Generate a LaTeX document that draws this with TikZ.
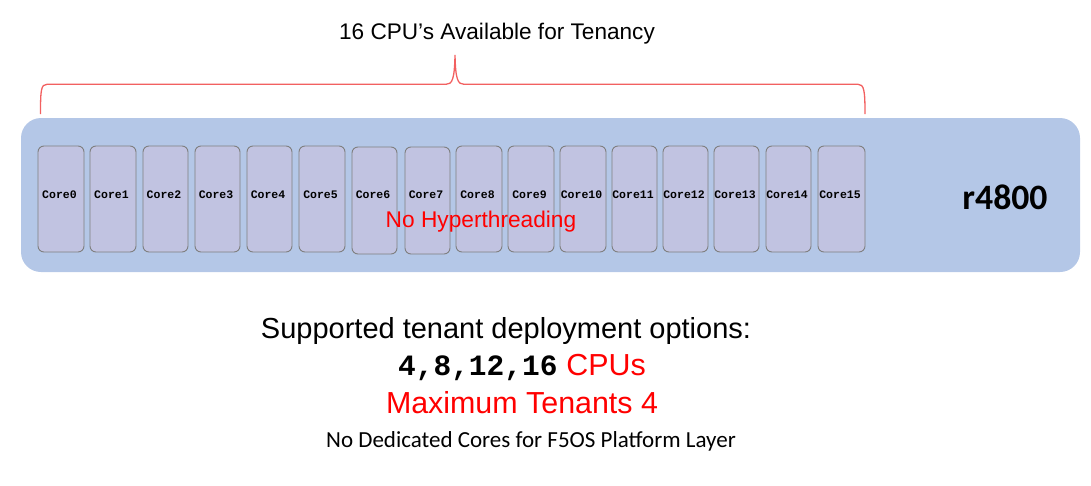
\documentclass[tikz,border=0pt]{standalone}
\usepackage{fontspec}
\setmainfont{Liberation Sans}
\newfontfamily\monofont{Liberation Mono}
\newfontfamily\calfont{Carlito}
\definecolor{boardblue}{HTML}{B4C7E7}
\definecolor{corefill}{HTML}{C1C3E1}
\definecolor{coreline}{HTML}{7F7F7F}
\definecolor{brred}{HTML}{F26060}
\tikzset{
  board/.style={fill=boardblue, draw=none, rounded corners=20pt},
  corebox/.style={fill=corefill, draw=coreline, line width=0.9pt, rounded corners=6pt},
  corelabel/.style={font=\monofont\bfseries\fontsize{11.5}{13}\selectfont, inner sep=0pt},
  bracepath/.style={draw=brred, line width=1.3pt},
}
\begin{document}
\begin{tikzpicture}[x=1pt,y=-1pt]
\useasboundingbox (0,0) rectangle (1091,485);
% board
\fill[board] (21,118) rectangle (1080,272);
% cores
\foreach \i/\xa/\xb/\ya/\yb in {0/38/84/146/252,1/90/136/146/252,2/143/188/146/252,3/195/240/146/252,4/247/292/146/252,5/299/345/146/252,6/352/397/147/254,7/405/450/147/254,8/456/502/146/252,9/508/554/146/252,10/560/606/146/252,11/612/657/146/252,12/663/708/146/252,13/714/759/146/252,14/766/811/146/252,15/818/865/146/252}{
  \draw[corebox] (\xa,\ya) rectangle (\xb,\yb);
  \node[corelabel] (c\i) at ({(\xa+\xb)/2-1.5},195) {Core\i};
}
% brace
\coordinate (bL) at (40.5,114);
\coordinate (bM) at (455,55);
\coordinate (bR) at (865,114);
\draw[bracepath] (bL) .. controls (40.5,90) and (41,84.3) .. (47,84.3) -- (446,84.3)
  .. controls (452,84.3) and (454.5,80) .. (bM)
  .. controls (455.5,80) and (458,84.3) .. (464,84.3) -- (858,84.3)
  .. controls (864,84.3) and (865,90) .. (bR);
% texts
\node[font=\fontsize{22.6}{27}\selectfont, inner sep=0pt] (title) at (497,34) {16 CPU’s Available for Tenancy};
\node[font=\fontsize{22.7}{27}\selectfont, text=red, inner sep=0pt] (noht) at (481,222) {No Hyperthreading};
\node[font=\calfont\bfseries\fontsize{35.7}{40}\selectfont, inner sep=0pt] (model) at (1005,197) {r4800};
\node[font=\fontsize{29}{34}\selectfont, inner sep=0pt] (sup) at (506,331) {Supported tenant deployment options:};
\node[inner sep=0pt] (opts) at (522,367) {{\monofont\bfseries\fontsize{29.5}{34}\selectfont 4,8,12,16}\hspace{9pt}{\fontsize{30.4}{34}\selectfont\color{red}CPUs}};
\node[font=\fontsize{30.4}{34}\selectfont, text=red, inner sep=0pt] (maxt) at (522,403) {Maximum Tenants 4};
\node[font=\calfont\fontsize{23}{27}\selectfont, inner sep=0pt] (noded) at (531,441) {No Dedicated Cores for F5OS Platform Layer};
\end{tikzpicture}
\end{document}
